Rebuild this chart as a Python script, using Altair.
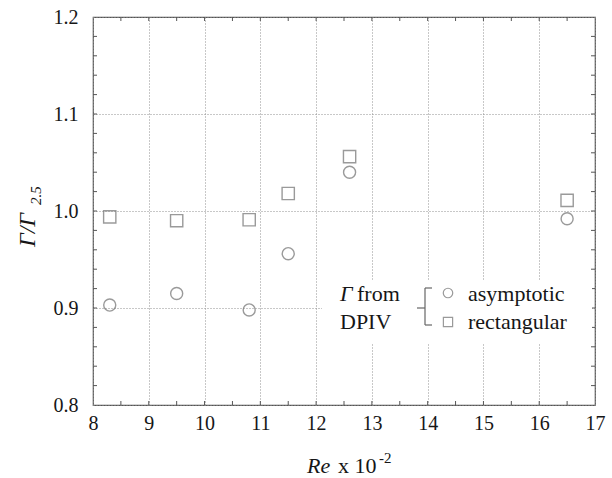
import altair as alt
import pandas as pd

# ---- data ----
re_vals = [8.3, 9.5, 10.8, 11.5, 12.6, 16.5]
asymptotic = [0.903, 0.915, 0.898, 0.956, 1.040, 0.992]
rectangular = [0.994, 0.990, 0.991, 1.018, 1.056, 1.011]

x_ticks = [8, 9, 10, 11, 12, 13, 14, 15, 16, 17]
y_ticks = [0.8, 0.9, 1.0, 1.1, 1.2]
x_minor = [8.5, 9, 9.5, 10, 10.5, 11, 11.5, 12, 12.5, 13, 13.5, 14, 14.5,
           15, 15.5, 16, 16.5]
y_minor = [0.82, 0.84, 0.86, 0.88, 0.9, 0.92, 0.94, 0.96, 0.98, 1.0, 1.02,
           1.04, 1.06, 1.08, 1.1, 1.12, 1.14, 1.16, 1.18]

W, H = 502, 388
FONT = "Liberation Serif"
MARK = "#707070"
INK = "#161616"
FRAME = "#555555"

xs = alt.Scale(domain=[8, 17], nice=False, zero=False)
ys = alt.Scale(domain=[0.8, 1.2], nice=False, zero=False)

pts = pd.DataFrame({"re": re_vals, "asym": asymptotic, "rect": rectangular})
one = pd.DataFrame({"a": [0]})

x_axis = alt.Axis(values=x_ticks, format="d", grid=True, gridDash=[1, 2],
                  gridColor="#909090", gridWidth=1, tickSize=0, domain=False,
                  labelFont=FONT, labelFontSize=20, labelColor=INK,
                  labelPadding=8, labelFlush=False, labelOverlap=False, title=None)
y_axis = alt.Axis(values=y_ticks, format=".1f", grid=True, gridDash=[1, 2],
                  gridColor="#909090", gridWidth=1, tickSize=0, domain=False,
                  labelFont=FONT, labelFontSize=20, labelColor=INK,
                  labelPadding=15, labelFlush=False, labelOverlap=False, title=None)


def X(field):
    return alt.X(field, scale=xs, axis=x_axis)


def Y(field):
    return alt.Y(field, scale=ys, axis=y_axis)


mask = alt.Chart(one).mark_rect(color="white").encode(
    x=alt.value(229), x2=alt.value(499), y=alt.value(263), y2=alt.value(326)
)

circles = alt.Chart(pts).mark_point(shape="circle", filled=False, size=145,
                                     color=MARK, strokeWidth=1.4).encode(
    x=X("re:Q"), y=Y("asym:Q"))
squares = alt.Chart(pts).mark_point(shape="square", filled=False, size=150,
                                     color=MARK, strokeWidth=1.4).encode(
    x=X("re:Q"), y=Y("rect:Q"))

# inward ticks on all four sides
ydf = pd.DataFrame({"v": y_minor})
xdf = pd.DataFrame({"v": x_minor})
tick_style = dict(color=FRAME, strokeWidth=1)
left_ticks = alt.Chart(ydf).mark_rule(**tick_style).encode(
    y=Y("v:Q"), x=alt.value(0), x2=alt.value(4))
right_ticks = alt.Chart(ydf).mark_rule(**tick_style).encode(
    y=Y("v:Q"), x=alt.value(W), x2=alt.value(W - 4))
bottom_ticks = alt.Chart(xdf).mark_rule(**tick_style).encode(
    x=X("v:Q"), y=alt.value(H), y2=alt.value(H - 4))
top_ticks = alt.Chart(xdf).mark_rule(**tick_style).encode(
    x=X("v:Q"), y=alt.value(0), y2=alt.value(4))


def label(txt, x, y, size=22, italic=False, angle=0, align="left",
          baseline="alphabetic"):
    kw = dict(text=txt, font=FONT, fontSize=size, color=INK, align=align,
              baseline=baseline)
    if italic:
        kw["fontStyle"] = "italic"
    if angle:
        kw["angle"] = angle
    return alt.Chart(one).mark_text(**kw).encode(x=alt.value(x), y=alt.value(y))


def seg(x1, y1, x2, y2):
    return alt.Chart(one).mark_rule(color="#666666", strokeWidth=1.2).encode(
        x=alt.value(x1), y=alt.value(y1), x2=alt.value(x2), y2=alt.value(y2))


# legend (drawn by hand, as in the figure)
legend = [
    label("\u0393", 247, 284, italic=True),
    label("from", 264, 284),
    label("DPIV", 247, 312),
    seg(332, 271, 332, 308),
    seg(332, 271, 339, 271),
    seg(332, 308, 339, 308),
    seg(324, 291, 332, 291),
    alt.Chart(one).mark_point(shape="circle", filled=False, size=90, color=MARK,
                              strokeWidth=1.2).encode(x=alt.value(355), y=alt.value(276)),
    alt.Chart(one).mark_point(shape="square", filled=False, size=85, color=MARK,
                              strokeWidth=1.2).encode(x=alt.value(355), y=alt.value(305)),
    label("asymptotic", 375, 284),
    label("rectangular", 375, 312),
]

# axis titles
titles = [
    label("Re", 214, 456, italic=True),
    label("x 10", 245, 456),
    label("-2", 286, 446, size=15),
    label("\u0393/\u0393", -58, 230, size=24, italic=True, angle=270),
    label("2.5", -52, 188, size=15, italic=True, angle=270),
]

chart = alt.layer(
    left_ticks, right_ticks, bottom_ticks, top_ticks, mask,
    circles, squares, *legend, *titles
).properties(
    width=W, height=H, autosize="none",
    padding={"left": 93, "top": 17, "right": 17, "bottom": 73},
    background="white",
).configure_view(stroke=FRAME, strokeWidth=1.2)

chart.save("out.html", embed_options={"renderer": "svg", "actions": False})
